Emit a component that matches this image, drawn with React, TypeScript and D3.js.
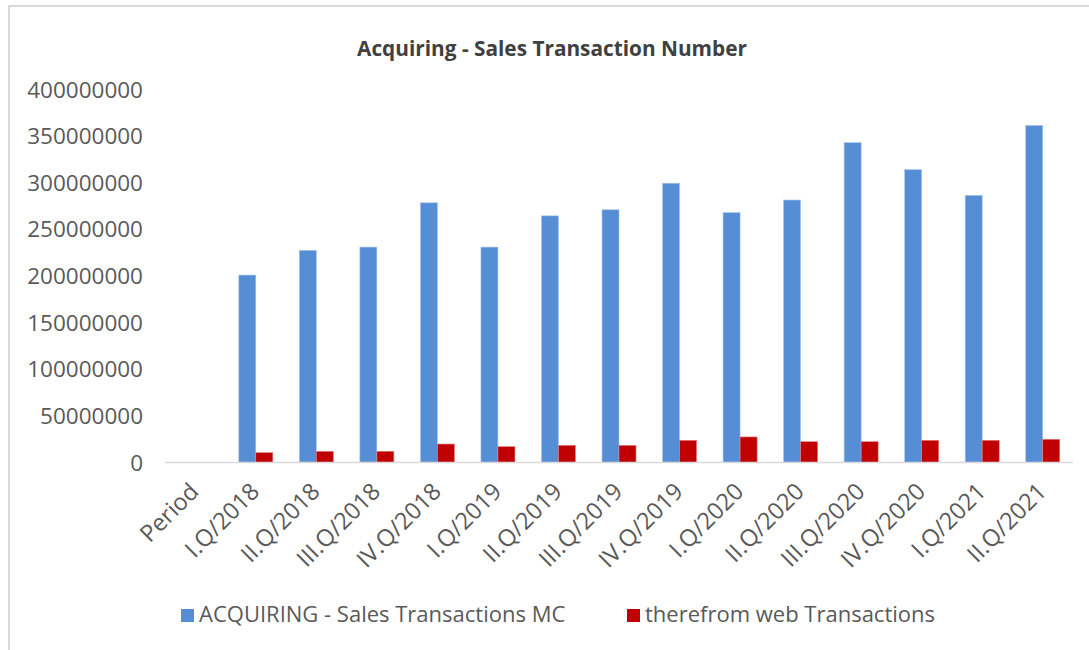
import React from "react";
import * as d3 from "d3";

const categories = [
  "Period",
  "I.Q/2018",
  "II.Q/2018",
  "III.Q/2018",
  "IV.Q/2018",
  "I.Q/2019",
  "II.Q/2019",
  "III.Q/2019",
  "IV.Q/2019",
  "I.Q/2020",
  "II.Q/2020",
  "III.Q/2020",
  "IV.Q/2020",
  "I.Q/2021",
  "II.Q/2021",
];

const salesMC: (number | null)[] = [
  null, 201000000, 227500000, 231000000, 278500000, 231000000, 264500000, 271000000,
  299500000, 268000000, 281500000, 343000000, 314000000, 286500000, 361500000,
];

const webTx: (number | null)[] = [
  null, 10500000, 12000000, 12000000, 19800000, 17000000, 18400000, 18400000,
  23800000, 27400000, 22300000, 22300000, 23800000, 23800000, 24900000,
];

const seriesNames = ["ACQUIRING - Sales Transactions MC", "therefrom web Transactions"];
const seriesColors = ["#558ED5", "#C00000"];
const yTicks = [0, 50000000, 100000000, 150000000, 200000000, 250000000, 300000000, 350000000, 400000000];

const W = 1089;
const H = 650;
const FONT = "'Open Sans', sans-serif";

export default function App() {
  const x = d3.scaleBand<string>().domain(categories).range([165, 1073]).padding(0);
  const inner = d3
    .scaleBand<string>()
    .domain(seriesNames)
    .range([0, x.bandwidth()])
    .paddingInner(0)
    .paddingOuter(0.78);
  const y = d3.scaleLinear().domain([0, 400000000]).range([462.5, 89.5]);
  const series = [salesMC, webTx];

  const legendX = [181, 627];

  return (
    <div style={{ position: "absolute", left: 0, top: 0 }}>
      <svg width={W} height={H} style={{ display: "block", background: "#fff" }}>
        <rect x={9} y={6} width={1200} height={800} fill="none" stroke="#d9d9d9" strokeWidth={2} />
        <text
          x={552}
          y={56}
          textAnchor="middle"
          fontFamily={FONT}
          fontWeight="bold"
          fontSize={20.8}
          fill="#404040"
        >
          Acquiring - Sales Transaction Number
        </text>

        {yTicks.map((t) => (
          <text
            key={t}
            x={143}
            y={y(t)}
            dy="0.36em"
            textAnchor="end"
            fontFamily={FONT}
            fontSize={22.5}
            fill="#595959"
          >
            {t}
          </text>
        ))}

        {series.map((vals, si) =>
          vals.map((v, i) =>
            v == null ? null : (
              <rect
                key={`${si}-${i}`}
                x={(x(categories[i]) ?? 0) + (inner(seriesNames[si]) ?? 0)}
                y={y(v)}
                width={inner.bandwidth()}
                height={y(0) - y(v)}
                fill={seriesColors[si]}
                stroke={si === 0 ? "#a9c4ea" : "#e07f7f"}
                strokeWidth={0.6}
              />
            )
          )
        )}

        <line x1={165} x2={1073} y1={y(0)} y2={y(0)} stroke="#d9d9d9" strokeWidth={1.5} />

        {categories.map((c) => {
          const cx = (x(c) ?? 0) + x.bandwidth() / 2;
          return (
            <text
              key={c}
              transform={`translate(${cx + 5},${493}) rotate(-45)`}
              textAnchor="end"
              fontFamily={FONT}
              fontSize={23.5}
              fill="#595959"
            >
              {c}
            </text>
          );
        })}

        {seriesNames.map((s, i) => (
          <g key={s} transform={`translate(${legendX[i]},609)`}>
            <rect x={0} y={0} width={13} height={13} fill={seriesColors[i]} />
            <text x={18} y={13} fontFamily={FONT} fontSize={22} fill="#595959">
              {s}
            </text>
          </g>
        ))}
      </svg>
    </div>
  );
}
